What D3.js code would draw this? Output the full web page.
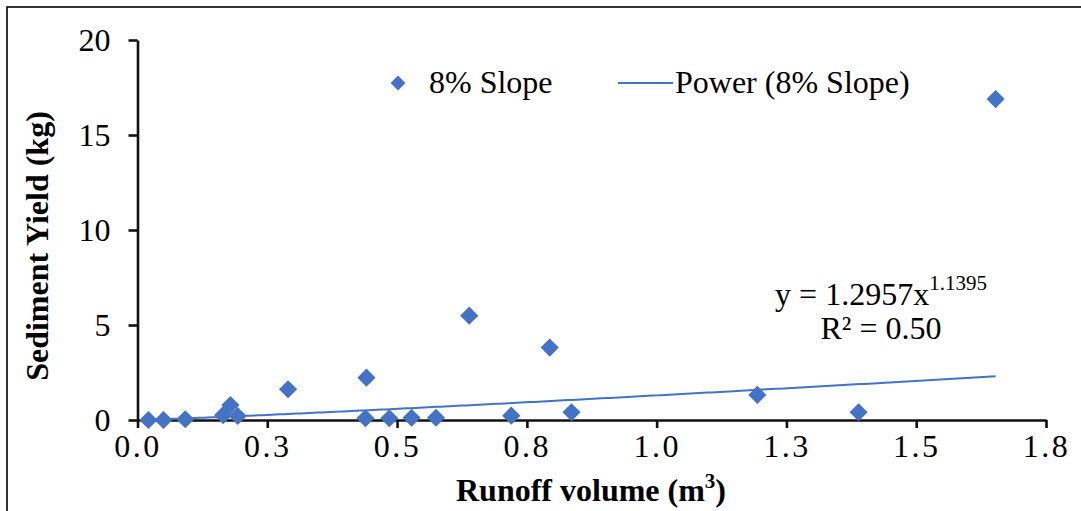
<!DOCTYPE html>
<html>
<head>
<meta charset="utf-8">
<script src="https://cdn.jsdelivr.net/npm/d3@7"></script>
<style>
  html, body { margin: 0; padding: 0; background: #fff; }
  svg { display: block; }
  svg text { font-family: "Liberation Serif", "Times New Roman", Times, "DejaVu Serif", serif; }
</style>
</head>
<body>
<svg id="chart" width="1081" height="511"></svg>
<script>
// Runoff volume (m³) per event on the 8% slope plot
const runoffVolume = [0.021, 0.050, 0.092, 0.165, 0.179, 0.193, 0.290, 0.441, 0.439, 0.485,
                      0.528, 0.575, 0.639, 0.720, 0.794, 0.836, 1.194, 1.389, 1.653];
// Sediment yield (kg) for the same events
const sedimentYield = [0.00, 0.00, 0.04, 0.26, 0.79, 0.21, 1.62, 2.23, 0.09, 0.09,
                       0.12, 0.12, 5.49, 0.23, 3.81, 0.41, 1.32, 0.41, 16.89];

// Power trendline coefficients: y = a * x^b
const powerA = 1.2957;
const powerB = 1.1395;
const rSquared = "0.50";

const xTicks = [0, 0.25, 0.5, 0.75, 1.0, 1.25, 1.5, 1.75];
const xTickLabels = ["0.0", "0.3", "0.5", "0.8", "1.0", "1.3", "1.5", "1.8"];
const yTicks = [0, 5, 10, 15, 20];

const seriesName = "8% Slope";
const trendName = "Power (8% Slope)";
const blue = "#4472C4";
const serif = '"Liberation Serif", "Times New Roman", Times, "DejaVu Serif", serif';

const svg = d3.select("#chart");

// Outer frame (runs off the right and bottom edges)
svg.append("rect")
  .attr("x", 7).attr("y", 7)
  .attr("width", 1100).attr("height", 520)
  .attr("fill", "none").attr("stroke", "#000").attr("stroke-width", 1.6);

const x = d3.scaleLinear().domain([0, 1.75]).range([137.5, 1046]);
const y = d3.scaleLinear().domain([0, 20]).range([420, 40]);

// Y axis
const yAxis = svg.append("g")
  .attr("transform", `translate(${x(0)},0)`)
  .call(d3.axisLeft(y).tickValues(yTicks).tickSize(9).tickPadding(18).tickSizeOuter(0));
yAxis.attr("font-family", serif);
yAxis.select(".domain").attr("stroke", "#111").attr("stroke-width", 2.6);
yAxis.selectAll(".tick line").attr("stroke", "#111").attr("stroke-width", 2.6);
yAxis.selectAll(".tick text")
  .attr("fill", "#000").attr("font-size", 32)
  .style("font-family", serif).attr("dy", "0.33em");

// X axis
const xAxis = svg.append("g")
  .attr("transform", `translate(0,${y(0)})`)
  .call(d3.axisBottom(x).tickValues(xTicks)
    .tickFormat((d, i) => xTickLabels[i]).tickSize(8).tickPadding(6).tickSizeOuter(0));
xAxis.attr("font-family", serif);
xAxis.select(".domain").attr("stroke", "#111").attr("stroke-width", 2.6);
xAxis.selectAll(".tick line").attr("stroke", "#111").attr("stroke-width", 2.6);
xAxis.selectAll(".tick text")
  .attr("fill", "#000").attr("font-size", 32)
  .style("font-family", serif)
  .attr("letter-spacing", "2.5px")
  .attr("dy", "0.72em");

// Power trendline over the observed range
const lo = d3.min(runoffVolume), hi = d3.max(runoffVolume);
const xs = d3.range(0, 201).map(i => lo + (hi - lo) * i / 200);
svg.append("path")
  .datum(xs)
  .attr("fill", "none")
  .attr("stroke", blue)
  .attr("stroke-width", 2)
  .attr("d", d3.line().x(d => x(d)).y(d => y(powerA * Math.pow(d, powerB))));

// Data markers: rotated squares
const marker = d3.symbol().type(d3.symbolSquare).size(165);
svg.append("g").selectAll("path")
  .data(runoffVolume.map((v, i) => [v, sedimentYield[i]]))
  .join("path")
  .attr("d", marker)
  .attr("fill", blue)
  .attr("transform", d => `translate(${x(d[0])},${y(d[1])}) rotate(45)`);

// Legend
const legend = svg.append("g");
legend.append("path")
  .attr("d", d3.symbol().type(d3.symbolSquare).size(110))
  .attr("fill", blue)
  .attr("transform", "translate(398,83) rotate(45)");
legend.append("text")
  .attr("x", 429).attr("y", 93)
  .attr("font-size", 32).attr("fill", "#000")
  .style("font-family", serif)
  .text(seriesName);
legend.append("line")
  .attr("x1", 618).attr("x2", 673).attr("y1", 83).attr("y2", 83)
  .attr("stroke", blue).attr("stroke-width", 2);
legend.append("text")
  .attr("x", 675).attr("y", 93)
  .attr("font-size", 32).attr("fill", "#000")
  .style("font-family", serif)
  .text(trendName);

// Trendline equation and R²
const eq = svg.append("text")
  .attr("x", 881).attr("y", 305)
  .attr("text-anchor", "middle")
  .attr("font-size", 32).attr("fill", "#000")
  .style("font-family", serif);
eq.append("tspan").text(`y = ${powerA}x`);
eq.append("tspan").attr("font-size", 21).attr("dy", -15).text(`${powerB}`);
svg.append("text")
  .attr("x", 881).attr("y", 339)
  .attr("text-anchor", "middle")
  .attr("font-size", 32).attr("fill", "#000")
  .style("font-family", serif)
  .text(`R² = ${rSquared}`);

// Axis titles
const xt = svg.append("text")
  .attr("x", 591).attr("y", 501)
  .attr("text-anchor", "middle")
  .attr("font-size", 32).attr("font-weight", "bold").attr("fill", "#000")
  .style("font-family", serif);
xt.append("tspan").text("Runoff volume (m");
xt.append("tspan").attr("font-size", 21).attr("dy", -13).text("3");
xt.append("tspan").attr("dy", 13).text(")");

svg.append("text")
  .attr("transform", "translate(48,246) rotate(-90)")
  .attr("text-anchor", "middle")
  .attr("font-size", 32).attr("font-weight", "bold").attr("fill", "#000")
  .style("font-family", serif)
  .text("Sediment Yield (kg)");
</script>
</body>
</html>
